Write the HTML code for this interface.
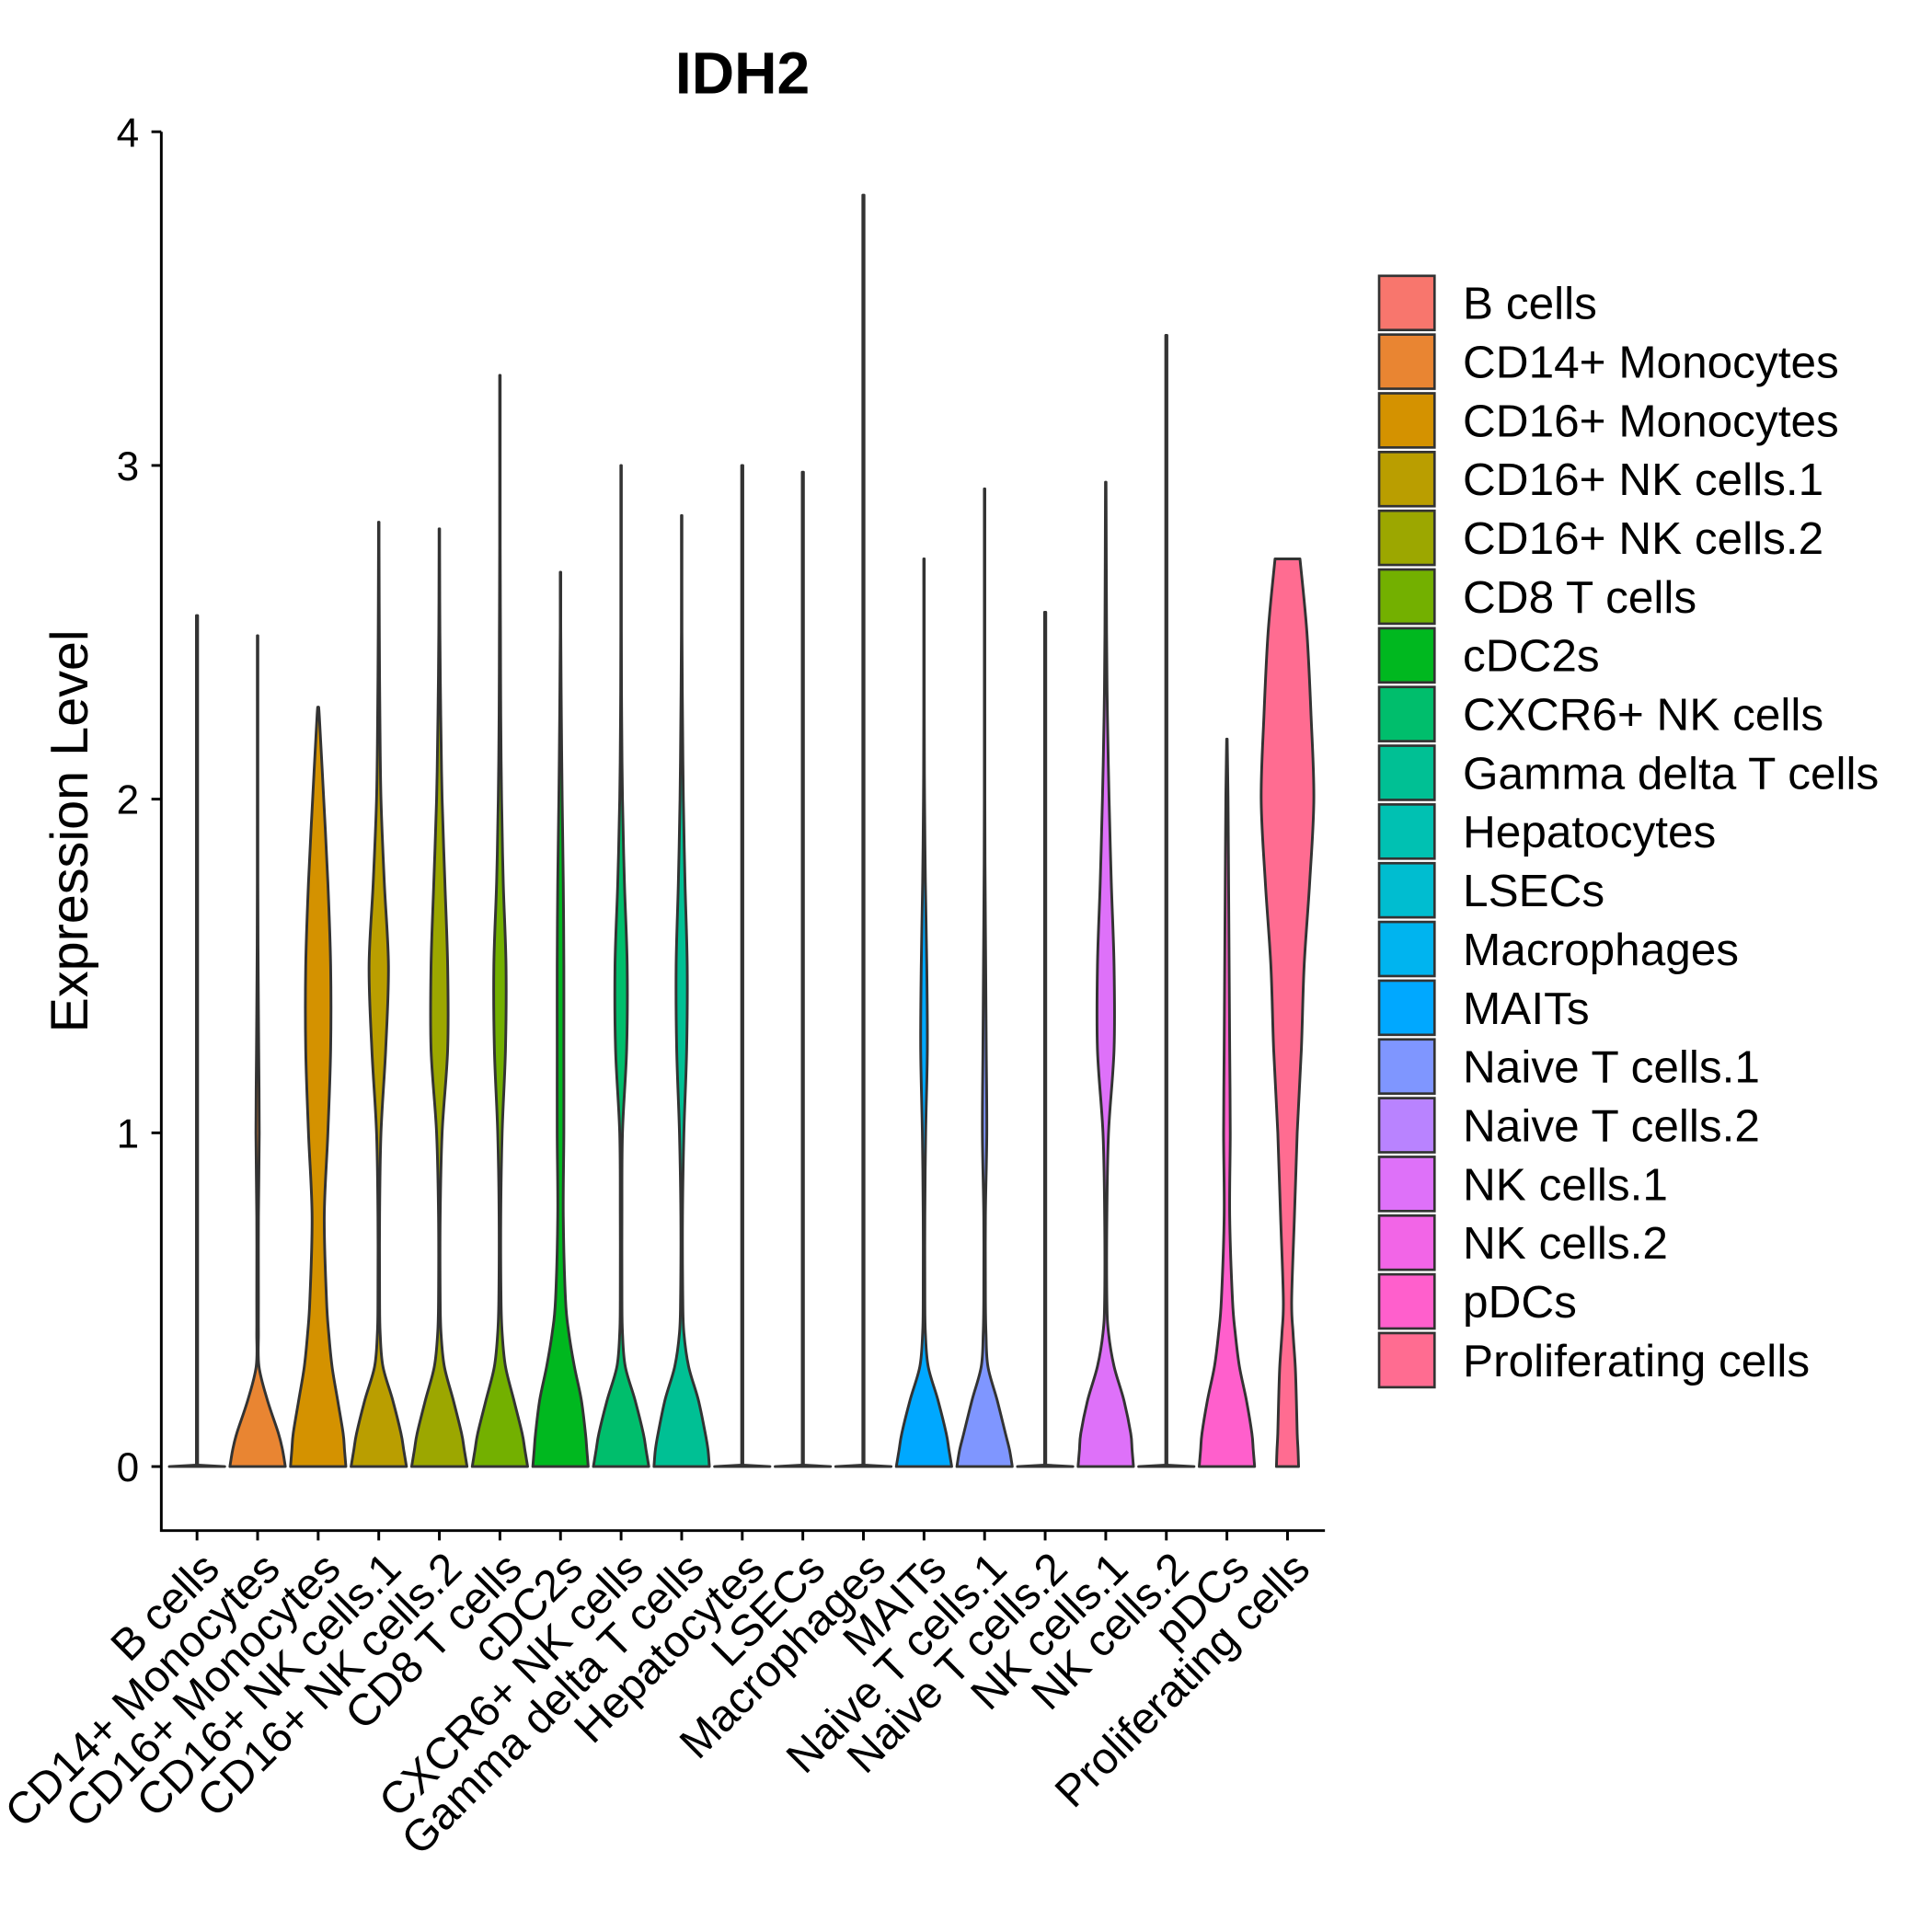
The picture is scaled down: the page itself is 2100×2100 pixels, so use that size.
<!DOCTYPE html>
<html><head><meta charset="utf-8"><style>
html,body{margin:0;padding:0;background:#fff;}
svg{display:block;font-family:"Liberation Sans",Arial,sans-serif;}
</style></head><body>
<svg id="chart" width="2100" height="2100" viewBox="0 0 1569 1569" xmlns="http://www.w3.org/2000/svg">
<text x="603" y="76" font-size="48" font-weight="bold" text-anchor="middle">IDH2</text>
<text transform="translate(71,675) rotate(-90)" font-size="43" text-anchor="middle">Expression Level</text>
<g id="plot"></g>
<g id="legend"></g>
</svg>
<script>
const categories=["B cells","CD14+ Monocytes","CD16+ Monocytes","CD16+ NK cells.1","CD16+ NK cells.2","CD8 T cells","cDC2s","CXCR6+ NK cells","Gamma delta T cells","Hepatocytes","LSECs","Macrophages","MAITs","Naive T cells.1","Naive T cells.2","NK cells.1","NK cells.2","pDCs","Proliferating cells"];
const colors=["#F8766D","#E98532","#D49200","#BA9E00","#9CA700","#73B000","#00B81F","#00BE6C","#00C094","#00C1B2","#00BDD0","#00B4EF","#00A8FF","#7F96FF","#B983FF","#DE71F9","#F265E7","#FF5FCC","#FF6C91"];
const maxVals=[2.55,2.49,2.27,2.83,2.81,3.27,2.68,3.0,2.85,3.0,2.98,3.81,2.72,2.93,2.56,2.95,3.39,2.18,2.72];
const levels=[0,0.05,0.1,0.2,0.3,0.4,0.5,0.75,1,1.25,1.5,1.75,2,2.25,2.5,2.75,3,3.25,3.5,3.75,4];
const flat=[1];
const widths=[
flat,
[1,0.9,0.75,0.35,0.05,0.03,0.03,0.03,0.06,0.04,0.02,0.01],
[1,0.95,0.9,0.7,0.5,0.38,0.3,0.22,0.35,0.45,0.45,0.35,0.2,0.04],
[1,0.9,0.8,0.5,0.15,0.05,0.03,0.03,0.08,0.25,0.35,0.2,0.08,0.04,0.02,0.01],
[1,0.9,0.8,0.5,0.18,0.06,0.03,0.03,0.1,0.3,0.3,0.2,0.1,0.05,0.02,0.01],
[1,0.9,0.8,0.5,0.2,0.08,0.04,0.03,0.08,0.2,0.22,0.12,0.06,0.03,0.02,0.01],
[1,0.95,0.9,0.75,0.5,0.3,0.18,0.1,0.12,0.12,0.12,0.1,0.06,0.03,0.01],
[1,0.9,0.8,0.5,0.15,0.05,0.03,0.03,0.05,0.2,0.22,0.12,0.05,0.02,0.01],
[1,0.95,0.85,0.6,0.25,0.08,0.04,0.03,0.08,0.18,0.2,0.12,0.06,0.03,0.01],
flat,flat,flat,
[1,0.9,0.8,0.5,0.15,0.05,0.03,0.03,0.06,0.12,0.1,0.05,0.02,0.01],
[1,0.9,0.75,0.45,0.12,0.05,0.03,0.03,0.08,0.06,0.04,0.02,0.01],
flat,
[1,0.95,0.9,0.65,0.3,0.1,0.04,0.04,0.1,0.3,0.3,0.2,0.12,0.06,0.03],
flat,
[1,0.95,0.9,0.7,0.45,0.3,0.2,0.1,0.12,0.1,0.08,0.06,0.04],
[0.4,0.38,0.35,0.32,0.28,0.2,0.15,0.25,0.35,0.5,0.6,0.8,0.95,0.85,0.7,0.5]
];
const yTicks=[0,1,2,3,4];
const X0=160,DX=49.2,HALF=22.5;
const xS=i=>X0+i*DX;
const yS=v=>1191-v*271;
const NS="http://www.w3.org/2000/svg";
const plot=document.getElementById('plot');
function mk(tag,attrs,parent){const e=document.createElementNS(NS,tag);for(const k in attrs)e.setAttribute(k,attrs[k]);parent.appendChild(e);return e;}
function smooth(P){let d='';for(let i=0;i<P.length-1;i++){const p0=P[Math.max(i-1,0)],p1=P[i],p2=P[i+1],p3=P[Math.min(i+2,P.length-1)];
 const c1=[p1[0]+(p2[0]-p0[0])/6,p1[1]+(p2[1]-p0[1])/6],c2=[p2[0]-(p3[0]-p1[0])/6,p2[1]-(p3[1]-p1[1])/6];
 d+=' C'+c1[0].toFixed(2)+','+c1[1].toFixed(2)+' '+c2[0].toFixed(2)+','+c2[1].toFixed(2)+' '+p2[0].toFixed(2)+','+p2[1].toFixed(2);}return d;}
let ax=mk('line',{x1:131,y1:107,x2:131,y2:1244,stroke:'#000','stroke-width':2.2},plot);


let bx=mk('line',{x1:130,y1:1243,x2:1076,y2:1243,stroke:'#000','stroke-width':2.2},plot);


yTicks.forEach(t=>{
 const tk=mk('line',{x1:123,x2:131,y1:yS(t),y2:yS(t),stroke:'#000','stroke-width':2.2},plot);
 
 
 const tl=mk('text',{x:113,y:yS(t)+12,'font-size':33,'text-anchor':'end'},plot);
 tl.textContent=t;
 
 
});
categories.forEach((c,i)=>{
 const x=xS(i);
 const w=widths[i],m=maxVals[i];
 let d;
 if(w.length===1){
  d='M'+(x-HALF)+','+yS(0)+' L'+(x-0.5)+','+(yS(0)-1.2)+' L'+(x-0.5)+','+yS(m)+' L'+(x+0.5)+','+yS(m)+' L'+(x+0.5)+','+(yS(0)-1.2)+' L'+(x+HALF)+','+yS(0)+' Z';
 } else {
  const pts=[];
  for(let k=0;k<w.length&&levels[k]<m;k++)pts.push([levels[k],w[k]]);
  pts.push([m,i===18?0.45:0.01]);
  const L=pts.map(p=>[x-p[1]*HALF,yS(p[0])]);
  const R=pts.slice().reverse().map(p=>[x+p[1]*HALF,yS(p[0])]);
  d='M'+L[0][0]+','+L[0][1]+smooth(L)+' L'+R[0][0]+','+R[0][1]+smooth(R)+' Z';
 }
 const v=mk('path',{d:d,fill:colors[i],stroke:'#333','stroke-width':2.2,'stroke-linejoin':'round'},plot);
 
 
 const tk=mk('line',{x1:x,x2:x,y1:1243,y2:1251,stroke:'#000','stroke-width':2.2},plot);
 
 
 const tl=mk('text',{transform:'translate('+(x+20)+',1276) rotate(-45)','font-size':36,'text-anchor':'end'},plot);
 tl.textContent=c;
 
 
});
const lg=document.getElementById('legend');
categories.forEach((c,i)=>{
 const y=224+i*47.7;
 const r=mk('rect',{x:1120,y:y,width:45,height:44,fill:colors[i],stroke:'#333','stroke-width':2},lg);
 
 
 const t=mk('text',{x:1188,y:y+35,'font-size':37},lg);
 t.textContent=c;
 
 
});
</script>
</body></html>
